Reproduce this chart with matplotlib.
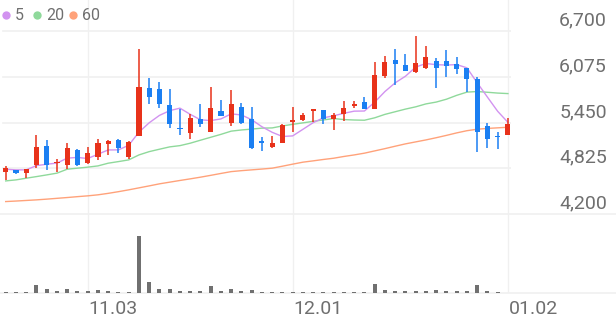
import matplotlib.pyplot as plt
import matplotlib.transforms as mtransforms
from matplotlib.lines import Line2D
import numpy as np

# daily candles, 50 trading days (won)
opens = [4770, 4800, 4760, 4870, 5125, 4890, 4870, 5070, 4900, 4980,
         5160, 5210, 4985, 5265, 5920, 5905, 5690, 5370, 5305, 5500,
         5325, 5605, 5440, 5665, 5495, 5200, 5110, 5170, 5460, 5480,
         5610, 5625, 5500, 5565, 5680, 5725, 5635, 6090, 6300, 6240,
         6145, 6195, 6295, 6295, 6245, 6190, 6040, 5405, 5265, 5280]
highs = [4855, 4805, 4820, 5280, 5210, 4945, 5170, 5085, 5115, 5230,
         5215, 5220, 5195, 6450, 6055, 6000, 5905, 5635, 5570, 5705,
         5940, 5755, 5890, 5710, 5655, 5255, 5270, 5425, 5665, 5575,
         5625, 5625, 5580, 5740, 5740, 5805, 6275, 6360, 6450, 6390,
         6630, 6490, 6330, 6445, 6350, 6200, 6075, 5440, 5325, 5510]
lows = [4665, 4745, 4690, 4835, 4795, 4780, 4815, 4860, 4880, 4940,
        5000, 5035, 4955, 5265, 5700, 5645, 5370, 5280, 5220, 5385,
        5325, 5545, 5405, 5430, 5090, 5065, 5100, 5170, 5325, 5470,
        5460, 5430, 5345, 5465, 5650, 5630, 5635, 6055, 5965, 6150,
        6130, 6180, 5920, 6070, 6110, 5870, 5050, 5100, 5090, 5280]
closes = [4835, 4760, 4820, 5115, 4870, 4910, 5100, 4870, 5040, 5165,
          5200, 5105, 5185, 5935, 5805, 5705, 5430, 5355, 5515, 5430,
          5650, 5545, 5700, 5440, 5105, 5170, 5165, 5415, 5480, 5555,
          5625, 5495, 5555, 5650, 5700, 5635, 6100, 6280, 6245, 6150,
          6260, 6345, 6200, 6220, 6180, 6040, 5325, 5220, 5250, 5425]
volumes = [80000, 80000, 80000, 770000, 370000, 170000, 430000, 200000, 170000, 330000,
           200000, 130000, 130000, 5700000, 1130000, 370000, 430000, 230000, 170000, 170000,
           730000, 200000, 370000, 170000, 270000, 80000, 80000, 80000, 80000, 80000,
           80000, 80000, 80000, 80000, 80000, 80000, 930000, 330000, 200000, 200000,
           200000, 200000, 330000, 170000, 170000, 170000, 770000, 200000, 130000, 50000]

# moving averages as drawn
ma5 = [4812, 4803, 4803, 4861, 4880, 4895, 4963, 4973, 4958, 5017,
       5075, 5076, 5139, 5318, 5446, 5547, 5612, 5646, 5562, 5487,
       5476, 5499, 5568, 5553, 5488, 5392, 5316, 5259, 5267, 5357,
       5448, 5514, 5542, 5576, 5605, 5607, 5728, 5873, 5992, 6082,
       6207, 6256, 6240, 6235, 6241, 6197, 5993, 5797, 5603, 5452]
ma20 = [4652, 4666, 4689, 4711, 4734, 4758, 4812, 4826, 4840, 4857,
        4894, 4916, 4939, 5007, 5052, 5085, 5117, 5134, 5167, 5208,
        5248, 5288, 5332, 5348, 5360, 5373, 5376, 5403, 5425, 5445,
        5466, 5485, 5504, 5490, 5484, 5481, 5514, 5561, 5597, 5633,
        5664, 5704, 5729, 5768, 5821, 5865, 5873, 5863, 5852, 5845]
ma60 = [4370, 4377, 4385, 4393, 4403, 4414, 4425, 4437, 4448, 4462,
        4482, 4505, 4530, 4557, 4584, 4612, 4635, 4658, 4680, 4703,
        4728, 4754, 4779, 4792, 4803, 4814, 4826, 4853, 4881, 4908,
        4926, 4945, 4962, 4986, 5007, 5031, 5062, 5093, 5126, 5158,
        5185, 5212, 5242, 5274, 5308, 5338, 5358, 5369, 5377, 5385]

price_ticks = [4200, 4825, 5450, 6075, 6700]
date_idx = [8, 28, 49]
date_labels = ['11.03', '12.01', '01.02']
ma_names = ['5', '20', '60']

RED = '#e8321a'
BLUE = '#1b7ff2'
MA_COLORS = ['#d293f0', '#8fd99b', '#ffa27a']
GRID = '#f0f0f0'
TXT = '#6f6f6f'

plt.rcParams['font.family'] = ['Roboto', 'DejaVu Sans']

W, H = 616, 321
fig = plt.figure(figsize=(W / 100, H / 100), dpi=100)


def box(l, t, r, b):
    # pixel box -> figure fraction
    return [l / W, 1 - b / H, (r - l) / W, (b - t) / H]


ax = fig.add_axes(box(0, 0, 511, 214))
axv = fig.add_axes(box(0, 214, 511, 293), sharex=ax)

x = np.arange(len(closes))
o = np.array(opens)
c = np.array(closes)
cols = np.where(c >= o, RED, BLUE)

for a in (ax, axv):
    a.set_axis_off()
    for i in date_idx:
        a.axvline(i, color=GRID, lw=1, zorder=0)

for p in price_ticks[1:]:
    ax.axhline(p, xmin=0.006, color=GRID, lw=1.2, zorder=0)

# panel separators run across the whole width
for yp in (214, 293):
    fig.add_artist(Line2D([0, 1], [1 - yp / H] * 2, color=GRID, lw=1.2, zorder=0))

# moving averages under the candles
for ma, col in zip([ma60, ma20, ma5], MA_COLORS[::-1]):
    ax.plot(x, ma, color=col, lw=1.0, zorder=2)

# candles
ax.vlines(x, lows, highs, colors=cols, lw=1.1, zorder=3)
body_lo = np.minimum(o, c)
body_h = np.maximum(np.abs(c - o), 18)
ax.bar(x, body_h, width=0.5, bottom=body_lo, color=cols, zorder=4)

ax.set_xlim(-0.556, 49.3)
ax.set_ylim(4200, 7123.5)

# volume
axv.bar(x, volumes, width=0.4, color='#707070')
axv.set_ylim(0, 7.9e6)

# price labels on the right
for p in price_ticks:
    ax.annotate(f'{p:,}', xy=(607 / W, p), xycoords=('figure fraction', 'data'),
                xytext=(0, 4), textcoords='offset points',
                ha='right', va='baseline', fontsize=14, color=TXT,
                annotation_clip=False)

# date labels
trans = mtransforms.blended_transform_factory(axv.transData, fig.transFigure)
for i, lab in zip(date_idx, date_labels):
    axv.text(i + 0.1, 1 - 309 / H, lab, transform=trans, ha='left', va='center',
             fontsize=14, color=TXT)

# legend
leg_x = [6, 37, 73]
for lx, name, col in zip(leg_x, ma_names, MA_COLORS):
    fig.add_artist(Line2D([lx / W], [1 - 15 / H], marker='o', markersize=6,
                          color=col, markeredgewidth=0))
    fig.text((lx + 9) / W, 1 - 15 / H, name, ha='left', va='center',
             fontsize=11.5, color=TXT)

fig.savefig('out.png', dpi=100)
